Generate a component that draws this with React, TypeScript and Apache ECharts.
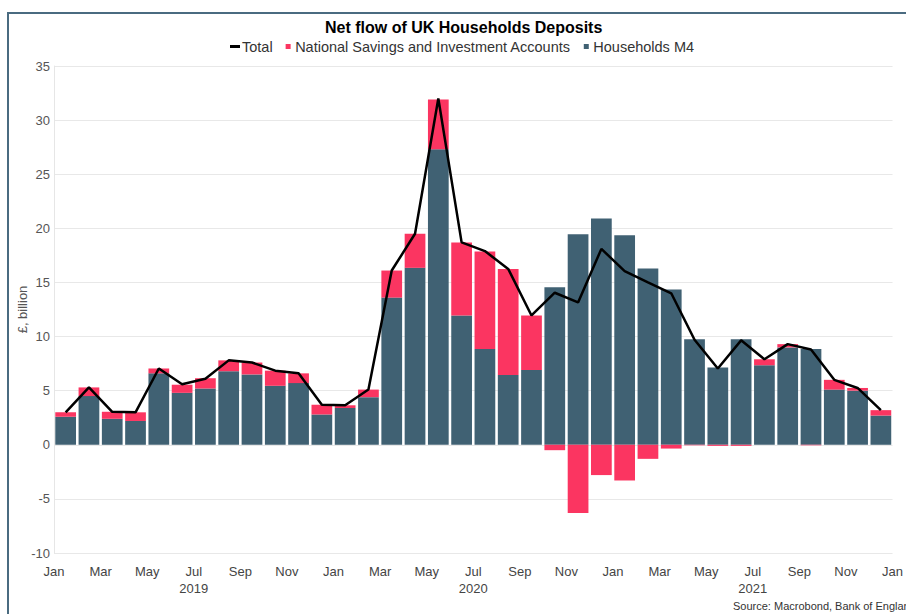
import React, { useEffect, useRef } from "react";
import * as echarts from "echarts";

const monthLabels = ["Jan", "Feb", "Mar", "Apr", "May", "Jun", "Jul", "Aug", "Sep", "Oct", "Nov", "Dec"];
const startYear = 2019;

// Households M4 net flow, £bn, Jan 2019 – Dec 2021
const householdsM4 = [
  2.6, 4.5, 2.4, 2.2, 6.6, 4.8, 5.2, 6.8, 6.5, 5.45, 5.7, 2.8,
  3.4, 4.4, 13.6, 16.35, 27.3, 11.95, 8.85, 6.45, 6.9, 14.55, 19.45, 20.9,
  19.35, 16.3, 14.35, 9.75, 7.15, 9.75, 7.35, 9.0, 8.85, 5.1, 5.0, 2.7,
];

// National Savings and Investment Accounts net flow, £bn
const nsiAccounts = [
  0.4, 0.8, 0.65, 0.8, 0.45, 0.75, 0.95, 1.0, 1.1, 1.4, 0.9, 0.9,
  0.25, 0.7, 2.5, 3.15, 4.6, 6.75, 9.0, 9.8, 5.05, -0.5, -6.3, -2.8,
  -3.3, -1.3, -0.35, -0.05, -0.1, -0.1, 0.55, 0.3, -0.05, 0.9, 0.25, 0.5,
];

// Total net flow, £bn
const totalFlow = [
  3.0, 5.3, 3.05, 3.0, 7.05, 5.6, 6.1, 7.8, 7.6, 6.85, 6.6, 3.7,
  3.65, 5.1, 16.1, 19.5, 32.0, 18.7, 17.9, 16.25, 11.95, 14.05, 13.15, 18.1,
  16.05, 15.0, 14.0, 9.7, 7.05, 9.65, 7.9, 9.3, 8.8, 6.0, 5.25, 3.2,
];

const months = householdsM4.map((_, i) => `${monthLabels[i % 12]} ${startYear + Math.floor(i / 12)}`);

const FONT = "'Liberation Sans', Arial, Helvetica, sans-serif";
const M4_COLOR = "#406173";
const NSI_COLOR = "#fb3561";

export default function App() {
  const ref = useRef<HTMLDivElement>(null);

  useEffect(() => {
    if (!ref.current) return;
    const chart = echarts.init(ref.current, undefined, { renderer: "svg" });
    const n = householdsM4.length;
    chart.setOption({
      animation: false,
      backgroundColor: "#ffffff",
      textStyle: { fontFamily: FONT },
      title: {
        text: "Net flow of UK Households Deposits",
        left: 320,
        top: 14,
        textStyle: { fontFamily: FONT, fontSize: 16, fontWeight: "bold", color: "#000" },
      },
      legend: {
        left: 225,
        top: 34,
        itemWidth: 10,
        itemHeight: 5,
        itemGap: 13,
        textStyle: { fontFamily: FONT, fontSize: 14.5, color: "#333", padding: [0, 0, 0, -3] },
        data: [
          { name: "Total", icon: "path://M0,0h10v3h-10z" },
          { name: "National Savings and Investment Accounts", icon: "path://M0,0h5v5h-5z" },
          { name: "Households M4", icon: "path://M0,0h5v5h-5z" },
        ],
      },
      grid: { left: 54, right: 5, top: 66, bottom: 61, containLabel: false },
      xAxis: [
        {
          type: "category",
          data: months,
          boundaryGap: true,
          axisLine: { show: false },
          axisTick: { show: false },
          axisLabel: { show: false },
          splitLine: { show: false },
        },
        {
          type: "value",
          position: "bottom",
          min: 0,
          max: n,
          interval: 2,
          axisLine: { show: false },
          axisTick: { show: false },
          splitLine: { show: false },
          axisLabel: {
            showMaxLabel: true,
            showMinLabel: true,
            color: "#444",
            fontSize: 13,
            fontFamily: FONT,
            lineHeight: 17,
            margin: 10,
            formatter: (v: number) => {
              const idx = Math.round(v);
              const m = idx % 12;
              const y = startYear + Math.floor(idx / 12);
              return m === 6 ? `${monthLabels[m]}\n${y}` : monthLabels[m];
            },
          },
        },
      ],
      yAxis: {
        type: "value",
        min: -10,
        max: 35,
        interval: 5,
        name: "£, billion",
        nameLocation: "middle",
        nameGap: 25,
        nameMoveOverlap: false,
        nameTextStyle: { color: "#555", fontSize: 13, fontFamily: FONT },
        axisLine: { show: true, lineStyle: { color: "#e6e6e6" } },
        axisTick: { show: false },
        axisLabel: { color: "#555", fontSize: 13, fontFamily: FONT, margin: 4 },
        splitLine: { show: true, lineStyle: { color: "#e8e8e8", width: 1 } },
      },
      graphic: [
        {
          type: "rect",
          z: 100,
          shape: { x: 8, y: 13, width: 1000, height: 1000 },
          style: { fill: "none", stroke: "#4a6b80", lineWidth: 2 },
          silent: true,
        },
        {
          type: "text",
          left: 733,
          top: 600,
          style: { text: "Source: Macrobond, Bank of England", fill: "#333", fontSize: 11, fontFamily: FONT },
        },
      ],
      series: [
        {
          name: "Households M4",
          type: "bar",
          stack: "flow",
          xAxisIndex: 0,
          barCategoryGap: "11%",
          itemStyle: { color: M4_COLOR },
          data: householdsM4,
        },
        {
          name: "National Savings and Investment Accounts",
          type: "bar",
          stack: "flow",
          xAxisIndex: 0,
          barCategoryGap: "11%",
          itemStyle: { color: NSI_COLOR },
          data: nsiAccounts,
        },
        {
          name: "Total",
          type: "line",
          xAxisIndex: 0,
          symbol: "none",
          lineStyle: { color: "#000", width: 2.5 },
          itemStyle: { color: "#000" },
          z: 5,
          data: totalFlow,
        },
      ],
    });
    return () => chart.dispose();
  }, []);

  return (
    <div
      ref={ref}
      style={{ position: "fixed", left: 0, top: 0, width: 906, height: 614, background: "#fff" }}
    />
  );
}
